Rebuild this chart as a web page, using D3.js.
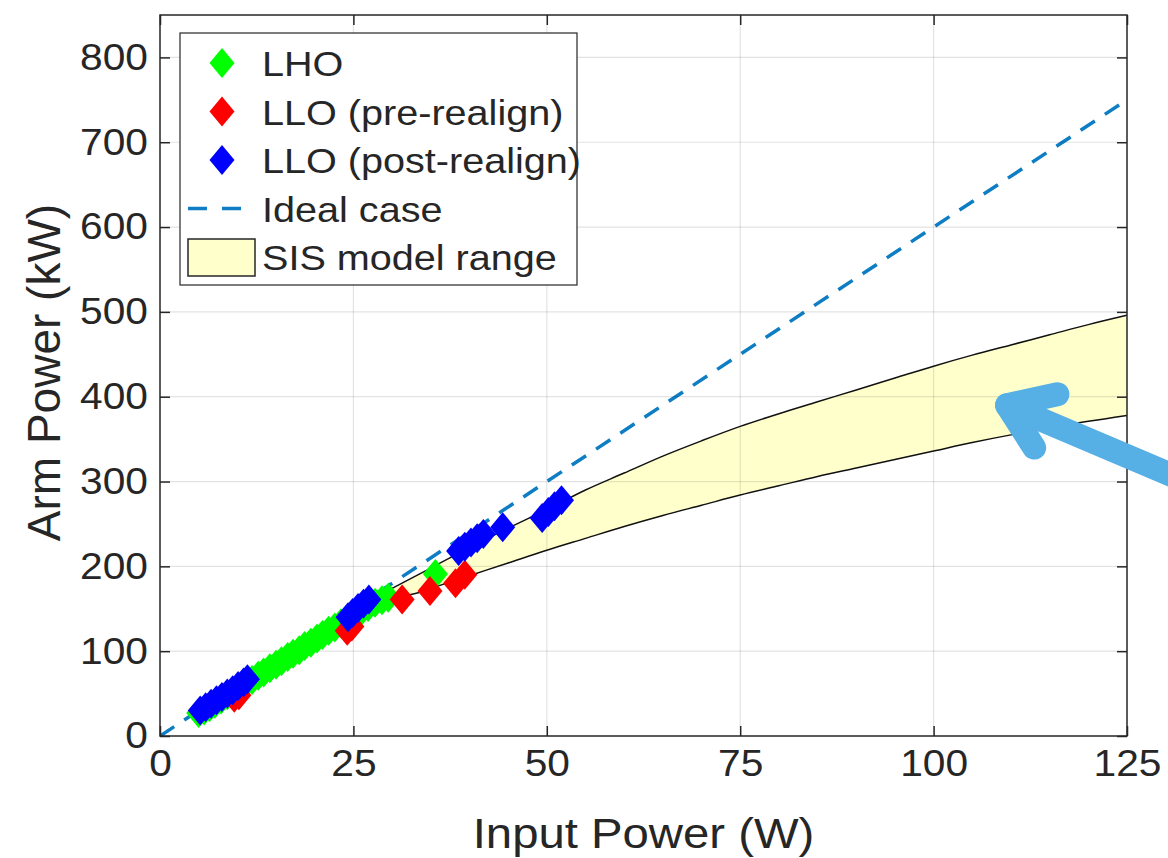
<!DOCTYPE html>
<html>
<head>
<meta charset="utf-8">
<script src="https://cdn.jsdelivr.net/npm/d3@7"></script>
<style>
  html, body { margin: 0; padding: 0; background: #fff; }
  svg text { font-family: "Liberation Sans", Arial, Helvetica, sans-serif; fill: #262626; }
</style>
</head>
<body>
<svg id="chart" width="1168" height="858"></svg>
<script>
// LHO points [input W, arm kW]
var lho = [[5.0,27],[5.7,30],[6.4,34],[7.1,38],[7.9,43],[8.7,48],[9.5,52],[10.3,57],[11.1,62],[11.9,66],
  [12.7,71],[13.4,75],[14.2,80],[15.0,84],[15.7,88],[16.5,93],[17.2,97],[18.0,101],[18.7,106],[19.5,110],
  [20.3,115],[21.0,119],[21.8,124],[22.6,128],[23.4,133],[24.2,137],[25.1,142],[26.0,147],[26.9,152],
  [27.8,157],[28.7,160],[29.5,163],[35.6,191]];
var lloPre = [[9.6,45],[10.2,48],[24.2,124],[24.8,129],[31.3,161],[34.9,171],[38.2,180],[39.4,190]];
var lloPost = [[5.2,30],[5.9,34],[6.6,38],[7.3,42],[8.0,46],[8.7,50],[9.4,54],[10.1,59],[10.8,63],[11.3,67],
  [24.3,140],[24.9,145],[25.6,151],[26.3,156],[27.0,161],
  [38.6,218],[39.4,223],[40.2,228],[41.0,233],[41.8,238],[44.3,246],
  [49.4,257],[50.2,264],[51.0,271],[51.9,278]];
var ideal = [[0,0],[125,750]];
var sisUpper = [[27,160],[30,174],[35,198],[40,222],[45,245],[50,267],[55,290],[60,310],[65,330],[70,348],
  [75,365],[80,380],[85,394],[90,408],[95,422],[100,436],[105,449],[110,461],[115,473],[120,485],[125,496]];
var sisLower = [[27,160],[30,163],[33,168],[36,177],[40,189],[45,204],[50,219],[55,233],[60,247],[65,260],
  [70,272],[75,284],[80,295],[85,306],[90,316],[95,326],[100,336],[105,346],[110,355],[115,363],[120,371],[125,378]];
var xTicks = [0, 25, 50, 75, 100, 125];
var yTicks = [0, 100, 200, 300, 400, 500, 600, 700, 800];
var legendLabels = ['LHO', 'LLO (pre-realign)', 'LLO (post-realign)', 'Ideal case', 'SIS model range'];
// annotation arrow, in data units
var arrowShaft = [[133.5,297],[109.5,390]];
var arrowHead = [[116,403],[109.5,390],[113,340]];

var LEFT = 160, RIGHT = 1127, TOP = 15, BOTTOM = 736;
var STRETCH = 'scale(1.1,1)';

var svg = d3.select('#chart');
var x = d3.scaleLinear().domain([0, 125]).range([LEFT, RIGHT]);
var y = d3.scaleLinear().domain([0, 850]).range([BOTTOM, TOP]);

svg.append('defs').append('clipPath').attr('id', 'plotclip')
  .append('rect').attr('x', LEFT).attr('y', TOP).attr('width', RIGHT - LEFT).attr('height', BOTTOM - TOP);

var plot = svg.append('g').attr('clip-path', 'url(#plotclip)');

// SIS band
var line = d3.line().x(function (d) { return x(d[0]) }).y(function (d) { return y(d[1]) });
var curve = d3.line().curve(d3.curveMonotoneX).x(function (d) { return x(d[0]) }).y(function (d) { return y(d[1]) });
var area = d3.area().curve(d3.curveMonotoneX)
  .x(function (d, i) { return x(sisUpper[i][0]) })
  .y0(function (d, i) { return y(d3.scaleLinear().domain(sisLower.map(function (p) { return p[0] })).range(sisLower.map(function (p) { return p[1] }))(sisUpper[i][0])) })
  .y1(function (d) { return y(d[1]) });
plot.append('path').attr('d', area(sisUpper)).attr('fill', '#ffffcc').attr('stroke', 'none');
plot.append('path').attr('d', curve(sisUpper)).attr('fill', 'none').attr('stroke', '#111').attr('stroke-width', 1.5);
plot.append('path').attr('d', curve(sisLower)).attr('fill', 'none').attr('stroke', '#111').attr('stroke-width', 1.5);

// grid
var grid = svg.append('g').attr('stroke', 'rgba(38,38,38,0.13)').attr('stroke-width', 1.2);
grid.selectAll('.gx').data(xTicks.slice(1, -1)).join('line')
  .attr('x1', function (d) { return x(d) }).attr('x2', function (d) { return x(d) })
  .attr('y1', TOP).attr('y2', BOTTOM);
grid.selectAll('.gy').data(yTicks.slice(1)).join('line')
  .attr('y1', function (d) { return y(d) }).attr('y2', function (d) { return y(d) })
  .attr('x1', LEFT).attr('x2', RIGHT);

// ideal line
plot.append('path').attr('d', line(ideal))
  .attr('fill', 'none').attr('stroke', '#0d7dc4').attr('stroke-width', 3.5)
  .attr('stroke-dasharray', '17,12');

// markers
var diamond = 'M0,-15L12.5,0L0,15L-12.5,0Z';
function drawSeries(data, color) {
  svg.append('g').selectAll('path').data(data).join('path')
    .attr('d', diamond)
    .attr('transform', function (d) { return 'translate(' + x(d[0]) + ',' + y(d[1]) + ')' })
    .attr('fill', color);
}
drawSeries(lho, '#00ff00');
drawSeries(lloPre, '#ff0000');
drawSeries(lloPost, '#0000ff');

// box + axes
svg.append('rect').attr('x', LEFT).attr('y', TOP).attr('width', RIGHT - LEFT).attr('height', BOTTOM - TOP)
  .attr('fill', 'none').attr('stroke', '#262626').attr('stroke-width', 1.5);

function styleAxis(g) {
  g.select('.domain').remove();
  g.selectAll('line').attr('stroke', '#262626').attr('stroke-width', 1.5);
  g.attr('font-family', null).attr('font-size', null);
  g.selectAll('text').attr('font-size', 37).attr('transform', STRETCH).attr('fill', '#262626');
}
svg.append('g').attr('transform', 'translate(0,' + BOTTOM + ')')
  .call(d3.axisBottom(x).tickValues(xTicks).tickSize(-10).tickPadding(14))
  .call(styleAxis);
svg.append('g').attr('transform', 'translate(' + LEFT + ',0)')
  .call(d3.axisLeft(y).tickValues(yTicks).tickSize(-10).tickPadding(11))
  .call(styleAxis);
svg.append('g').attr('transform', 'translate(0,' + TOP + ')')
  .call(d3.axisTop(x).tickValues(xTicks).tickSize(-10).tickFormat(''))
  .call(styleAxis);
svg.append('g').attr('transform', 'translate(' + RIGHT + ',0)')
  .call(d3.axisRight(y).tickValues(yTicks).tickSize(-10).tickFormat(''))
  .call(styleAxis);

// axis labels
svg.append('text').attr('transform', 'translate(' + ((LEFT + RIGHT) / 2) + ',848) ' + STRETCH)
  .attr('text-anchor', 'middle').attr('font-size', 43).text('Input Power (W)');
svg.append('text').attr('transform', 'translate(60,' + ((TOP + BOTTOM) / 2 - 3) + ') rotate(-90)')
  .attr('text-anchor', 'middle').attr('font-size', 46).text('Arm Power (kW)');

// legend
var lg = svg.append('g');
lg.append('rect').attr('x', 180).attr('y', 33).attr('width', 397).attr('height', 252)
  .attr('fill', '#fff').attr('stroke', '#262626').attr('stroke-width', 1.2);
var rowY = function (i) { return 63 + i * 48.5 };
var markerColors = ['#00ff00', '#ff0000', '#0000ff'];
markerColors.forEach(function (c, i) {
  lg.append('path').attr('d', diamond).attr('fill', c)
    .attr('transform', 'translate(222,' + rowY(i) + ')');
});
lg.append('line').attr('x1', 188).attr('x2', 242).attr('y1', rowY(3)).attr('y2', rowY(3))
  .attr('stroke', '#0d7dc4').attr('stroke-width', 3.5).attr('stroke-dasharray', '19,15');
lg.append('rect').attr('x', 188).attr('y', rowY(4) - 18).attr('width', 67).attr('height', 37)
  .attr('fill', '#ffffcc').attr('stroke', '#262626').attr('stroke-width', 1.5);
lg.selectAll('text.lab').data(legendLabels).join('text')
  .attr('transform', function (d, i) { return 'translate(262,' + (rowY(i) + 13) + ') ' + STRETCH })
  .attr('font-size', 36).attr('fill', '#000').text(function (d) { return d });

// arrow annotation
var arrowG = svg.append('g').attr('fill', 'none').attr('stroke', '#56b0e6')
  .attr('stroke-width', 24).attr('stroke-linecap', 'round').attr('stroke-linejoin', 'round');
arrowG.append('path').attr('d', line(arrowShaft));
arrowG.append('path').attr('d', line(arrowHead));
</script>
</body>
</html>
